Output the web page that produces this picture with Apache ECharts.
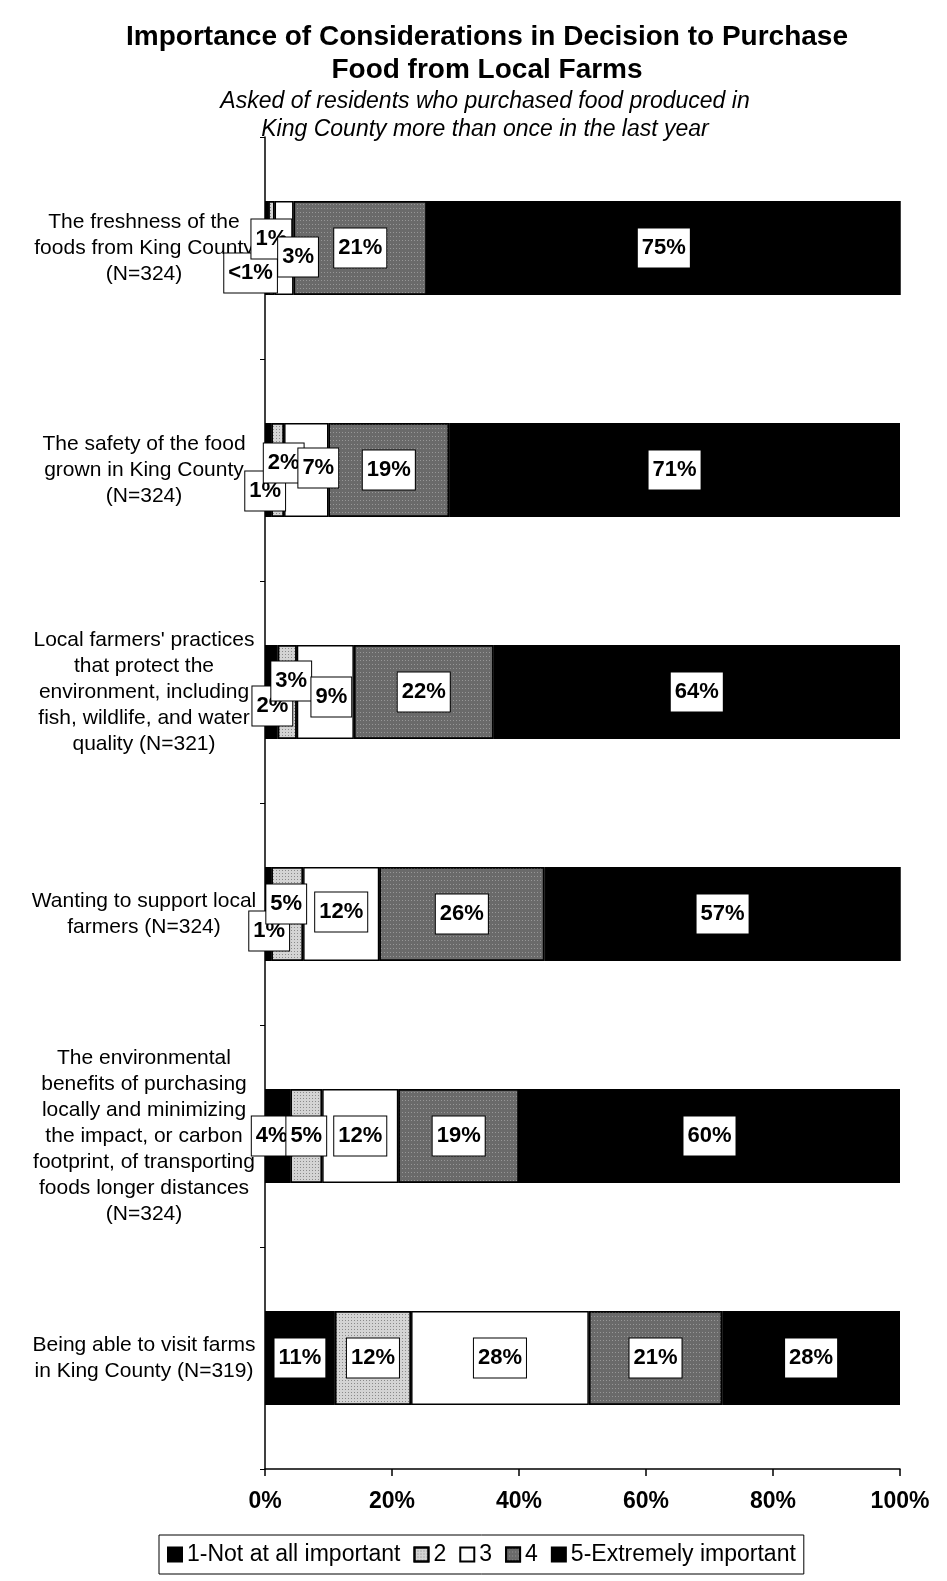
<!DOCTYPE html>
<html>
<head>
<meta charset="utf-8">
<script src="https://cdn.jsdelivr.net/npm/echarts@6/dist/echarts.min.js"></script>
<style>
html,body{margin:0;padding:0;background:#fff;}
#chart{width:947px;height:1581px;}
</style>
</head>
<body>
<div id="chart"></div>
<script>
// ---- data ----
const categories = [
  "The freshness of the\nfoods from King County\n(N=324)",
  "The safety of the food\ngrown in King County\n(N=324)",
  "Local farmers' practices\nthat protect the\nenvironment, including\nfish, wildlife, and water\nquality (N=321)",
  "Wanting to support local\nfarmers (N=324)",
  "The environmental\nbenefits of purchasing\nlocally and minimizing\nthe impact, or carbon\nfootprint, of transporting\nfoods longer distances\n(N=324)",
  "Being able to visit farms\nin King County (N=319)"
];
const seriesNames = ["1-Not at all important", "2", "3", "4", "5-Extremely important"];
const notAtAll   = [0.5, 1, 2, 1, 4, 11];
const rating2    = [1, 2, 3, 5, 5, 12];
const rating3    = [3, 7, 9, 12, 12, 28];
const rating4    = [21, 19, 22, 26, 19, 21];
const extremely  = [75, 71, 64, 57, 60, 28];
const xTicks = [0, 20, 40, 60, 80, 100];

// label nudges (layout only): [seriesIndex][rowIndex] -> [dx, dy]
const labelNudges = {
  0: {0: [-16, 25], 1: [-3, 21], 2: [1, 14], 3: [1, 17], 4: [-6, 0]},
  1: {0: [0, -9], 1: [6, -7], 2: [4, -11], 3: [-1, -10]},
  2: {0: [14, 9], 1: [12, -2], 2: [6, 5], 3: [0, -2]}
};

const FONT = "'Liberation Sans', Arial, sans-serif";
const values = [notAtAll, rating2, rating3, rating4, extremely];
const fills = ['#000000', '#d4d4d4', '#ffffff', '#6a6a6a', '#000000'];
const decals = [
  null,
  {symbol: 'rect', symbolSize: 1, color: 'rgba(0,0,0,0.35)', dashArrayX: [1, 2], dashArrayY: [1, 2]},
  null,
  {symbol: 'rect', symbolSize: 1, color: 'rgba(255,255,255,0.3)', dashArrayX: [1, 2], dashArrayY: [1, 3]},
  null
];

function fmt(v) { return v < 1 ? '<1%' : Math.round(v) + '%'; }

const series = values.map((arr, si) => ({
  name: seriesNames[si],
  type: 'bar',
  stack: 'total',
  barWidth: 94,
  clip: true,
  itemStyle: Object.assign({color: fills[si], borderColor: '#000', borderWidth: 1.5},
    decals[si] ? {decal: decals[si]} : {}),
  emphasis: {disabled: true},
  label: {
    show: true,
    position: 'inside',
    formatter: p => fmt(p.value),
    fontFamily: FONT,
    fontSize: 22,
    fontWeight: 'bold',
    lineHeight: 22,
    color: '#000',
    backgroundColor: '#fff',
    borderColor: '#000',
    borderWidth: 1,
    padding: [9, 4, 8, 4]
  },
  data: arr.map((v, ri) => {
    const n = labelNudges[si] && labelNudges[si][ri];
    return n ? {value: v, label: {offset: n}} : v;
  })
}));

const chart = echarts.init(document.getElementById('chart'), null, {renderer: 'canvas'});
chart.setOption({
  backgroundColor: '#fff',
  animation: false,
  title: [
    {
      text: 'Importance of Considerations in Decision to Purchase\nFood from Local Farms',
      left: 482, top: 16, textAlign: 'center',
      textStyle: {fontFamily: FONT, fontSize: 28, fontWeight: 'bold', lineHeight: 33, color: '#000'}
    },
    {
      text: 'Asked of residents who purchased food produced in\nKing County more than once in the last year',
      left: 480, top: 83, textAlign: 'center',
      textStyle: {fontFamily: FONT, fontSize: 23, fontStyle: 'italic', fontWeight: 'normal', lineHeight: 28, color: '#000'}
    }
  ],
  legend: {
    data: seriesNames,
    left: 159, top: 1535,
    padding: [8, 8, 8, 8],
    borderColor: '#000', borderWidth: 1,
    itemWidth: 14, itemHeight: 14, itemGap: 13,
    icon: 'rect',
    textStyle: {fontFamily: FONT, fontSize: 23, color: '#000', padding: [0, 0, 0, 0]}
  },
  grid: {left: 265, right: 47, top: 137, bottom: 112, containLabel: false},
  xAxis: {
    type: 'value', min: 0, max: 100, interval: 20,
    axisLine: {show: true, lineStyle: {color: '#000', width: 1.5}},
    axisTick: {show: true, length: 7, lineStyle: {color: '#000', width: 1.5}},
    splitLine: {show: false},
    axisLabel: {
      formatter: v => xTicks.includes(v) ? v + '%' : '',
      fontFamily: FONT, fontSize: 23, fontWeight: 'bold', color: '#000', margin: 21
    }
  },
  yAxis: {
    type: 'category', data: categories, inverse: true,
    axisLine: {show: true, lineStyle: {color: '#000', width: 1.5}},
    axisTick: {show: true, length: 5, lineStyle: {color: '#000', width: 1}},
    axisLabel: {
      fontFamily: FONT, fontSize: 21, lineHeight: 26, color: '#000',
      align: 'center', margin: 121, padding: [0, 0, 5, 0]
    }
  },
  series: series
});
</script>
</body>
</html>
